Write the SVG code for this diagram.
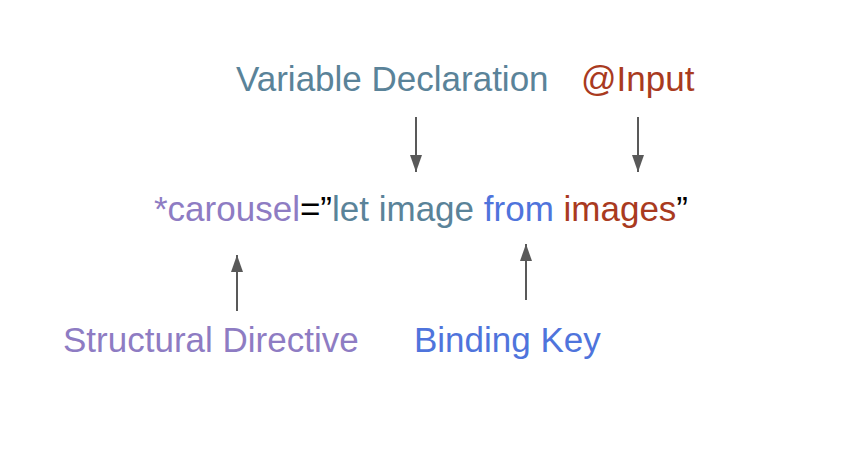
<svg xmlns="http://www.w3.org/2000/svg" width="844" height="460" viewBox="0 0 844 460">
<style>
text{font-family:"Liberation Sans",Arial,sans-serif;font-size:35px}
.c{stroke:#595959;stroke-width:2;fill:none}
.p{fill:#8e7cc3}.t{fill:#5a8399}.b{fill:#4f74dc}.r{fill:#a93a20}.k{fill:#000}
</style>
<defs>
<marker id="ah" viewBox="0 0 10 10" refX="10" refY="5" markerWidth="17" markerHeight="12" markerUnits="userSpaceOnUse" orient="auto" preserveAspectRatio="none">
<path d="M0,0 L10,5 L0,10 z" fill="#595959"/>
</marker>
</defs>
<rect width="844" height="460" fill="#fff"/>
<g id="var-decl"><text x="236" y="91" class="t">Variable Declaration</text></g>
<g id="input"><text x="581" y="91" class="r">@Input</text></g>
<g id="expr"><text x="154" y="221"><tspan class="p">*carousel</tspan><tspan class="k">=”</tspan><tspan class="t">let image </tspan><tspan class="b">from </tspan><tspan class="r">images</tspan><tspan class="k">”</tspan></text></g>
<g id="struct"><text x="63" y="352" class="p">Structural Directive</text></g>
<g id="binding"><text x="414" y="352" class="b">Binding Key</text></g>
<g id="connectors">
<line class="c" x1="416" y1="117" x2="416" y2="172" marker-end="url(#ah)"/>
<line class="c" x1="638" y1="117" x2="638" y2="172" marker-end="url(#ah)"/>
<line class="c" x1="237" y1="311" x2="237" y2="255" marker-end="url(#ah)"/>
<line class="c" x1="526" y1="300" x2="526" y2="244" marker-end="url(#ah)"/>
</g>
</svg>
